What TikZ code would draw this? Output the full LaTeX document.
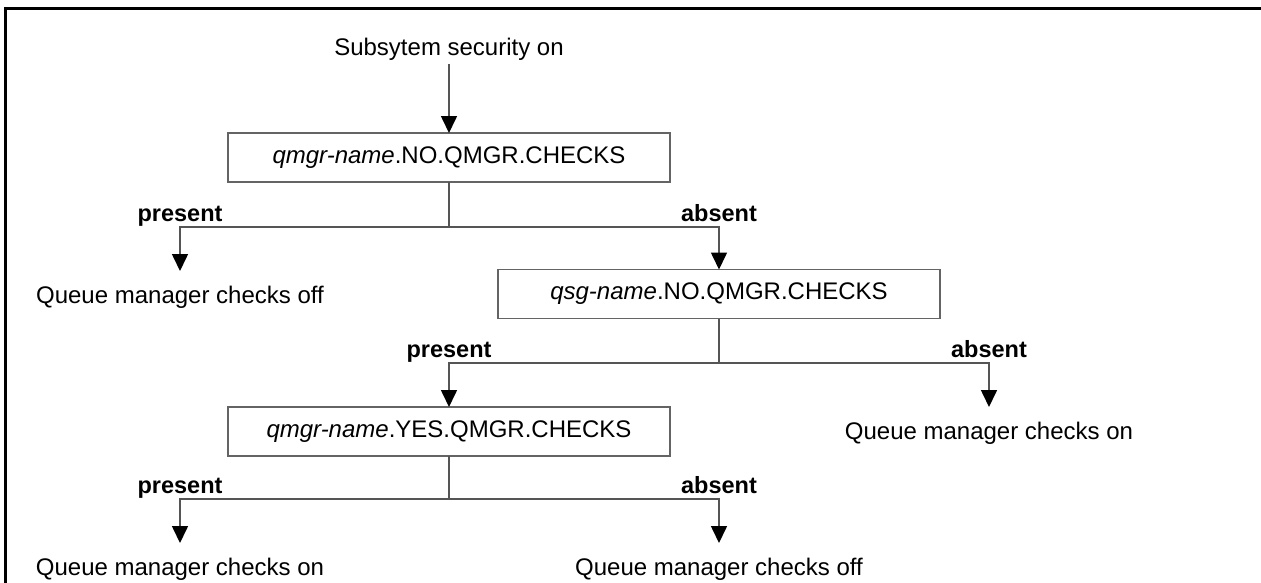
\documentclass[tikz,border=0pt]{standalone}
\usepackage{fontspec}
\setmainfont{Liberation Sans}
\usetikzlibrary{arrows.meta}
\definecolor{linegray}{RGB}{85,85,85}
\definecolor{boxgray}{RGB}{100,100,100}
\tikzset{
  frameline/.style={line width=3pt, black},
  cbox/.style={draw=boxgray, line width=1.6pt, minimum width=442pt, minimum height=49pt,
    inner sep=0pt, outer sep=0pt, font=\fontsize{24}{28}\selectfont},
  txt/.style={font=\fontsize{24}{28}\selectfont, inner sep=0pt, outer sep=0pt},
  res/.style={txt, anchor=north, inner ysep=15pt},
  lab/.style={font=\bfseries\fontsize{23.5}{28}\selectfont, inner sep=0pt, anchor=base, yshift=6pt},
  conn/.style={draw=linegray, line width=1.6pt},
  arr/.style={conn, -{Triangle[width=16pt,length=17pt,color=black,fill=black]}},
}
\begin{document}
\begin{tikzpicture}[x=1pt,y=-1pt]
\useasboundingbox (0,0) rectangle (1261,582);
% outer frame (top and left edges)
\draw[frameline] (5.5,590) -- (5.5,8) -- (1270,8);

% nodes
\node[txt, anchor=base, inner ysep=4pt] (start) at (449,55) {Subsytem security on};
\node[cbox] (b1) at (449,157.5) {\textit{qmgr-name}.NO.QMGR.CHECKS};
\coordinate (j1) at (449,227);
\node[res] (off1) at (180,271) {Queue manager checks off};
\node[cbox] (b2) at (719,294) {\textit{qsg-name}.NO.QMGR.CHECKS};
\coordinate (j2) at (719,363);
\node[res] (on1) at (989,407) {Queue manager checks on};
\node[cbox] (b3) at (449,431.5) {\textit{qmgr-name}.YES.QMGR.CHECKS};
\coordinate (j3) at (449,499);
\node[res] (on2) at (180,543) {Queue manager checks on};
\node[res] (off2) at (719,543) {Queue manager checks off};

% labels
\node[lab] (p1) at (off1.north |- j1) {present};
\node[lab] (a1) at (b2.north |- j1) {absent};
\node[lab] (p2) at (b3.north |- j2) {present};
\node[lab] (a2) at (on1.north |- j2) {absent};
\node[lab] (p3) at (on2.north |- j3) {present};
\node[lab] (a3) at (off2.north |- j3) {absent};

% connectors
\draw[arr] (start.south) -- (b1.north);
\draw[conn] (b1.south) -- (j1);
\draw[arr] (j1) -| (off1.north);
\draw[arr] (j1) -| (b2.north);
\draw[conn] (b2.south) -- (j2);
\draw[arr] (j2) -| (b3.north);
\draw[arr] (j2) -| (on1.north);
\draw[conn] (b3.south) -- (j3);
\draw[arr] (j3) -| (on2.north);
\draw[arr] (j3) -| (off2.north);
\end{tikzpicture}
\end{document}
